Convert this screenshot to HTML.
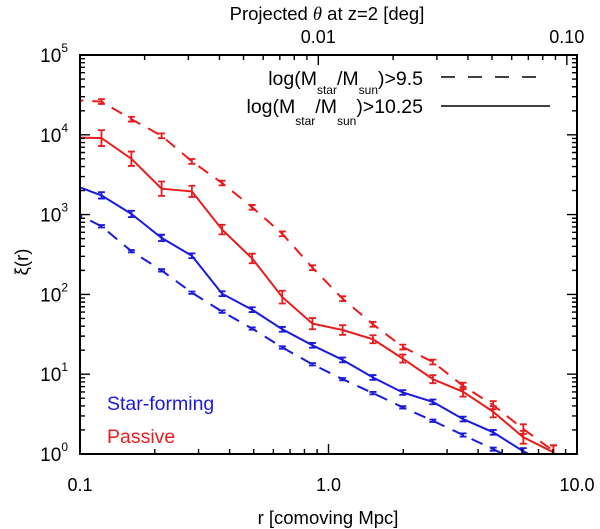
<!DOCTYPE html>
<html><head><meta charset="utf-8"><style>
html,body{margin:0;padding:0;background:#fff;}
svg{display:block;font-family:"Liberation Sans",sans-serif;}
</style></head><body>
<svg id="chart" width="600" height="529" viewBox="0 0 600 529" xmlns="http://www.w3.org/2000/svg">
<g id="marks"></g>
<g id="axes"></g>
<text x="327" y="20" font-size="18.5" text-anchor="middle">Projected <tspan font-style="italic" font-family="Liberation Serif">θ</tspan> at z=2 [deg]</text>
<text x="328" y="524" font-size="18.5" text-anchor="middle">r [comoving Mpc]</text>
<text transform="translate(28,262) rotate(-90)" font-size="18.5" text-anchor="middle">ξ(r)</text>
<g>
<text x="423" y="85" font-size="19.5" text-anchor="end">log(M<tspan font-size="12" dy="9">star</tspan><tspan dy="-9">/M</tspan><tspan font-size="12" dy="9">sun</tspan><tspan dy="-9">)&gt;9.5</tspan></text>
<line x1="441" y1="77" x2="537" y2="77" stroke="#000" stroke-width="1.6" stroke-dasharray="14,13"/>
<text x="423" y="113" font-size="19.5" text-anchor="end">log(M<tspan font-size="12" dy="12">star</tspan><tspan dy="-12">/M</tspan><tspan font-size="12" dy="12">sun</tspan><tspan dy="-12">)&gt;10.25</tspan></text>
<line x1="441" y1="106" x2="550" y2="106" stroke="#000" stroke-width="1.6"/>
</g>
<text x="107" y="410" font-size="19.5" fill="#1a1adc">Star-forming</text>
<text x="107" y="443" font-size="19.5" fill="#e81c1c">Passive</text>
</svg>
<script>
const radii = [0.0923,0.122,0.161,0.213,0.282,0.373,0.493,0.652,0.862,1.14,1.51,1.99,2.63,3.48,4.60,6.08,8.04];
const passiveDashed = [27400,26100,15700,9720,4640,2490,1234,574,216,88.3,42.2,21.9,14.2,7.14,4.10,2.05,1.09];
const passiveSolid = [9250,9100,5010,2113,1955,649,282,92.5,43,35.8,27.4,15.7,8.66,6.01,3.38,1.62,1.05];
const starFormingSolid = [2400,1742,1020,511,305,102,64.4,36.5,23.0,15.1,9.1,5.9,4.5,2.74,1.87,1.08,0.7];
const starFormingDashed = [1100,714,348,200,105,60.8,37.3,21.6,13.3,8.66,5.79,3.84,2.61,1.73,1.15,0.75,0.5];
const errPassiveDashed = [0.03,0.03,0.03,0.03,0.03,0.03,0.03,0.03,0.03,0.03,0.03,0.03,0.03,0.04,0.05,0.06,0.07];
const errPassiveSolid = [0.1,0.1,0.09,0.09,0.07,0.06,0.06,0.08,0.07,0.06,0.05,0.05,0.05,0.06,0.07,0.08,0.09];
const errStarSolid = [0.04,0.04,0.04,0.04,0.03,0.03,0.03,0.03,0.03,0.03,0.03,0.03,0.03,0.03,0.03,0.04,0.05];
const errStarDashed = [0.015,0.015,0.015,0.015,0.015,0.015,0.015,0.015,0.015,0.015,0.015,0.015,0.015,0.02,0.02,0.02,0.02];
const xTickLabels = ["0.1","1.0","10.0"];
const yTickExps = [0,1,2,3,4,5];
const topTickLabels = ["0.01","0.10"];
const degToMpc = 91;

const L=80,R=577,T=55,B=454;
const xs = r => L + (Math.log10(r)+1)/2*(R-L);
const ys = v => B - Math.log10(v)/5*(B-T);
const NS="http://www.w3.org/2000/svg";
function mk(tag, attrs, parent){const e=document.createElementNS(NS,tag);for(const k in attrs)e.setAttribute(k,attrs[k]);parent.appendChild(e);return e;}
const marks=document.getElementById('marks'), axes=document.getElementById('axes');
const defs=mk('defs',{},marks);
const cp=mk('clipPath',{id:'clip'},defs);
mk('rect',{x:L,y:T,width:R-L,height:B-T},cp);
const plotG=mk('g',{'clip-path':'url(#clip)'},marks);

function series(vals, errs, color, dashed, name){
  const g=mk('g',{},plotG);
  
  
  const pts=vals.map((v,i)=>xs(radii[i]).toFixed(1)+','+ys(v).toFixed(1)).join(' ');
  const pl=mk('polyline',{points:pts,fill:'none',stroke:color,'stroke-width':2,'stroke-dasharray':dashed?'12,9':'none'},g);
  
  
  vals.forEach((v,i)=>{
    const x=xs(radii[i]); const lv=Math.log10(v);
    const y1=ys(Math.pow(10,lv+errs[i])), y2=ys(Math.pow(10,lv-errs[i]));
    const eb=mk('path',{d:`M${x-3.5},${y1}H${x+3.5}M${x},${y1}V${y2}M${x-3.5},${y2}H${x+3.5}`,stroke:color,'stroke-width':1.8,fill:'none'},g);
    
    
  });
}
series(passiveDashed, errPassiveDashed, '#e81c1c', true, 'passive-dashed-series');
series(passiveSolid, errPassiveSolid, '#e81c1c', false, 'passive-solid-series');
series(starFormingSolid, errStarSolid, '#1a1adc', false, 'star-forming-solid-series');
series(starFormingDashed, errStarDashed, '#1a1adc', true, 'star-forming-dashed-series');

const fr=mk('rect',{x:L,y:T,width:R-L,height:B-T,fill:'none',stroke:'#000','stroke-width':2},axes);


let d='';
for(let dec=-1;dec<=0;dec++){for(let m=1;m<=9;m++){const r=m*Math.pow(10,dec);const x=xs(r);const len=(m===1)?10:5;if(x>L+0.5&&x<R-0.5)d+=`M${x},${B}v${-len}`;}}
for(let e=0;e<5;e++){for(let m=1;m<=9;m++){const y=ys(m*Math.pow(10,e));const len=(m===1)?10:5;if(y<B-0.5&&y>T+0.5){d+=`M${L},${y}h${len}M${R},${y}h${-len}`;}}}
for(let dec=-3;dec<=-1;dec++){for(let m=1;m<=9;m++){const th=m*Math.pow(10,dec);const r=th*degToMpc;const x=xs(r);const len=(m===1)?10:5;if(x>L+0.5&&x<R-0.5)d+=`M${x},${T}v${len}`;}}
const tk=mk('path',{d:d,stroke:'#000','stroke-width':1.4,fill:'none'},axes);


xTickLabels.forEach(s=>{
  const t=mk('text',{x:xs(parseFloat(s)),y:491,'font-size':18,'text-anchor':'middle'},axes);t.textContent=s;
  
  
});
yTickExps.forEach(e=>{
  const t=mk('text',{x:68,y:ys(Math.pow(10,e))+7,'font-size':19,'text-anchor':'end'},axes);
  t.textContent='10';
  const s=mk('tspan',{'font-size':12,dy:-10},t);s.textContent=String(e);
  
  
});
topTickLabels.forEach(s=>{
  const t=mk('text',{x:xs(parseFloat(s)*degToMpc),y:43,'font-size':18,'text-anchor':'middle'},axes);t.textContent=s;
  
  
});
</script>
</body></html>
